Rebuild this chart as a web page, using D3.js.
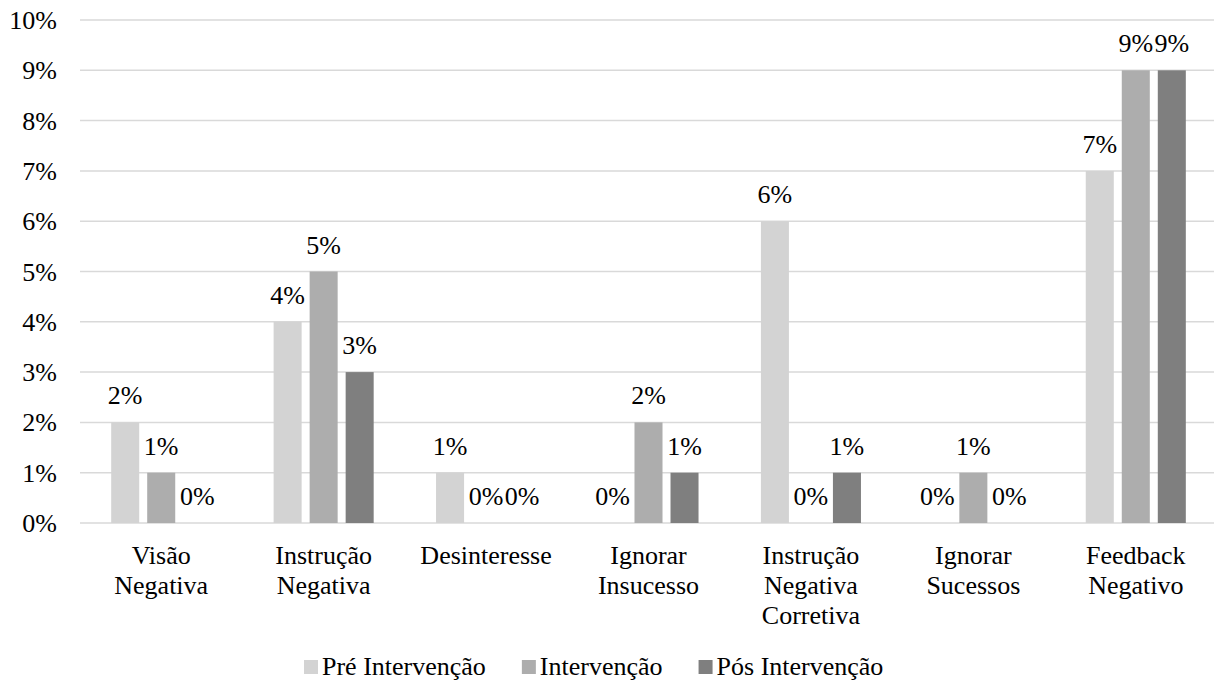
<!DOCTYPE html>
<html>
<head>
<meta charset="utf-8">
<script src="https://cdn.jsdelivr.net/npm/d3@7"></script>
<style>
  html, body { margin: 0; padding: 0; background: #fff; }
  svg { display: block; font-family: "Liberation Serif", "Times New Roman", serif; }
</style>
</head>
<body>
<svg id="chart" width="1214" height="680"></svg>
<script>
const categories = [
  ["Visão", "Negativa"],
  ["Instrução", "Negativa"],
  ["Desinteresse"],
  ["Ignorar", "Insucesso"],
  ["Instrução", "Negativa", "Corretiva"],
  ["Ignorar", "Sucessos"],
  ["Feedback", "Negativo"]
];
const seriesNames = ["Pré Intervenção", "Intervenção", "Pós Intervenção"];
const preValues = [2, 4, 1, 0, 6, 0, 7];
const intValues = [1, 5, 0, 2, 0, 1, 9];
const posValues = [0, 3, 0, 1, 1, 0, 9];
const yTicks = [0, 1, 2, 3, 4, 5, 6, 7, 8, 9, 10];
const colors = ["#d3d3d3", "#adadad", "#7f7f7f"];

(function () {
const series = [preValues, intValues, posValues];
const svg = d3.select("#chart");
const fontSize = 26;

const pLeft = 80, pRight = 1217, pTop = 20, pBottom = 523;
const catKeys = categories.map((c, i) => i);

const x0 = d3.scaleBand().domain(catKeys).range([pLeft, pRight]).paddingInner(0.384).paddingOuter(0.192);
const x1 = d3.scaleBand().domain([0, 1, 2]).range([0, x0.bandwidth()]).paddingInner(0.222).paddingOuter(0);
const y = d3.scaleLinear().domain([0, 10]).range([pBottom, pTop]);

// gridlines
svg.append("g").selectAll("line").data(yTicks).join("line")
  .attr("x1", pLeft).attr("x2", pRight)
  .attr("y1", d => y(d)).attr("y2", d => y(d))
  .attr("stroke", "#d9d9d9").attr("stroke-width", 1.5);

// y tick labels
svg.append("g").selectAll("text").data(yTicks).join("text")
  .attr("x", 57).attr("y", d => y(d) + 9)
  .attr("text-anchor", "end")
  .attr("font-size", fontSize).attr("fill", "#000")
  .text(d => d + "%");

// bars
const groups = svg.append("g").selectAll("g").data(catKeys).join("g")
  .attr("transform", d => `translate(${x0(d)},0)`);

groups.selectAll("rect").data(ci => series.map((s, si) => ({si, v: s[ci]}))).join("rect")
  .attr("x", d => x1(d.si))
  .attr("width", x1.bandwidth())
  .attr("y", d => y(d.v))
  .attr("height", d => y(0) - y(d.v))
  .attr("fill", d => colors[d.si]);

groups.selectAll("text.lbl").data(ci => series.map((s, si) => ({si, v: s[ci]}))).join("text")
  .attr("class", "lbl")
  .attr("x", d => x1(d.si) + x1.bandwidth() / 2)
  .attr("y", d => y(d.v) - 18)
  .attr("text-anchor", "middle")
  .attr("font-size", fontSize).attr("fill", "#000")
  .text(d => d.v + "%");

// category labels
const catG = svg.append("g").selectAll("text").data(catKeys).join("text")
  .attr("text-anchor", "middle")
  .attr("font-size", fontSize).attr("fill", "#000");
catG.each(function(ci) {
  const t = d3.select(this);
  const cx = x0(ci) + x0.bandwidth() / 2;
  categories[ci].forEach((line, li) => {
    t.append("tspan").attr("x", cx).attr("y", 564 + li * 30).text(line);
  });
});

// legend
const legend = svg.append("g");
let lx = 304;
seriesNames.forEach((name, i) => {
  legend.append("rect").attr("x", lx).attr("y", 660).attr("width", 14).attr("height", 14).attr("fill", colors[i]);
  const t = legend.append("text").attr("x", lx + 18).attr("y", 675)
    .attr("font-size", fontSize).attr("fill", "#000").text(name);
  lx += 18 + t.node().getComputedTextLength() + 36;
});
})();
</script>
</body>
</html>
